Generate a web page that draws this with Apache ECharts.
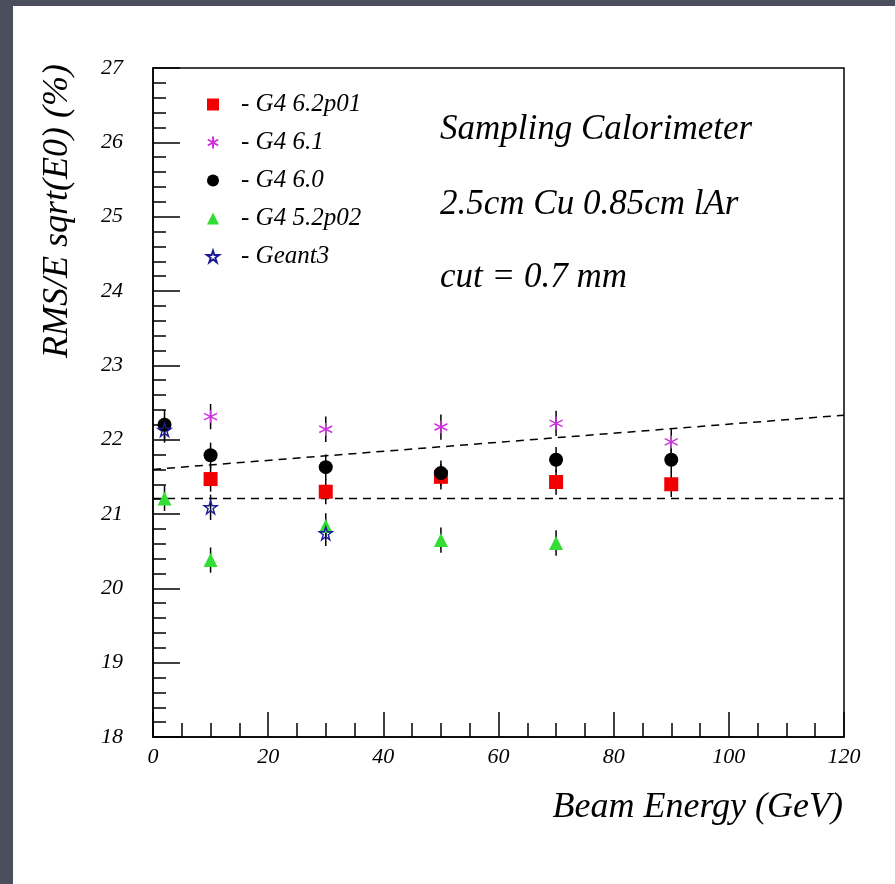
<!DOCTYPE html>
<html>
<head>
<meta charset="utf-8">
<script src="https://cdn.jsdelivr.net/npm/echarts@6/dist/echarts.min.js"></script>
<style>
  html, body { margin: 0; padding: 0; background: #4b4e5d; }
  #chart { position: absolute; left: 13px; top: 6px; width: 882px; height: 878px; background: #fff; }
</style>
</head>
<body>
<div id="chart"></div>
<script>
// beam energies (GeV) per sample
const eG4_62p01 = [10, 30, 50, 70, 90]
const eG4_61 = [10, 30, 50, 70, 90]
const eG4_60 = [2, 10, 30, 50, 70, 90]
const eG4_52p02 = [2, 10, 30, 50, 70]
const eGeant3 = [2, 10, 30]

// RMS/E * sqrt(E0) (%)
const vG4_62p01 = [21.47, 21.30, 21.50, 21.43, 21.40]
const vG4_61 = [22.31, 22.14, 22.17, 22.22, 21.97]
const vG4_60 = [22.20, 21.79, 21.63, 21.55, 21.73, 21.73]
const vG4_52p02 = [21.21, 20.38, 20.84, 20.65, 20.61]
const vGeant3 = [22.13, 21.09, 20.74]

// error bars
const errG4_62p01 = [0.17, 0.17, 0.17, 0.17, 0.17]
const errG4_61 = [0.17, 0.17, 0.17, 0.17, 0.17]
const errG4_60 = [0.2, 0.17, 0.17, 0.17, 0.17, 0.17]
const errG4_52p02 = [0.17, 0.17, 0.17, 0.17, 0.17]
const errGeant3 = [0.17, 0.17, 0.17]

// dashed reference lines (end points)
const flatLine = [[0, 21.21], [120, 21.21]]
const slopeLine = [[0, 21.60], [120, 22.33]]

const xTicks = { min: 0, max: 120, interval: 20 }
const yTicks = { min: 18, max: 27, interval: 1 }

const FONT = 'Liberation Serif'
const ASTERISK = 'path://M5,0L5,10M0.67,2.5L9.33,7.5M0.67,7.5L9.33,2.5'
const STAR = 'path://M50,2L61,36L97,36L68,57L79,92L50,70L21,92L32,57L3,36L39,36Z'

const pts = (xs, ys) => xs.map((x, i) => [x, ys[i]])
const errPts = (xs, ys, es) => xs.map((x, i) => [x, ys[i], es[i]])

const samples = [
  { name: 'G4 6.2p01', x: eG4_62p01, y: vG4_62p01, e: errG4_62p01, symbol: 'rect', size: 14,
    itemStyle: { color: '#f00000', opacity: 1 } },
  { name: 'G4 6.1', x: eG4_61, y: vG4_61, e: errG4_61, symbol: ASTERISK, size: 13,
    itemStyle: { color: 'transparent', borderColor: '#cc33dd', borderWidth: 1.5, opacity: 1 } },
  { name: 'G4 6.0', x: eG4_60, y: vG4_60, e: errG4_60, symbol: 'circle', size: 14,
    itemStyle: { color: '#000', opacity: 1 } },
  { name: 'G4 5.2p02', x: eG4_52p02, y: vG4_52p02, e: errG4_52p02, symbol: 'triangle', size: 14,
    itemStyle: { color: '#33dd33', opacity: 1 } },
  { name: 'Geant3', x: eGeant3, y: vGeant3, e: errGeant3, symbol: STAR, size: 13,
    itemStyle: { color: 'transparent', borderColor: '#1a1a99', borderWidth: 1.4, opacity: 1 } }
]

const series = []

samples.forEach(s => {
  series.push({
    type: 'custom',
    name: s.name + ' err',
    data: errPts(s.x, s.y, s.e),
    encode: { x: 0, y: 1 },
    z: 2,
    silent: true,
    renderItem: (params, api) => {
      const p1 = api.coord([api.value(0), api.value(1) - api.value(2)])
      const p2 = api.coord([api.value(0), api.value(1) + api.value(2)])
      return {
        type: 'line',
        shape: { x1: p1[0], y1: p1[1], x2: p2[0], y2: p2[1] },
        style: { stroke: '#000', lineWidth: 1.5 }
      }
    }
  })
})

samples.forEach(s => {
  series.push({
    type: 'scatter',
    name: s.name,
    data: pts(s.x, s.y),
    symbol: s.symbol,
    symbolSize: s.size,
    itemStyle: s.itemStyle,
    z: 3
  })
})

;[flatLine, slopeLine].forEach((l, i) => {
  series.push({
    type: 'line',
    name: 'fit' + i,
    data: l,
    symbol: 'none',
    silent: true,
    z: 1,
    lineStyle: { color: '#000', width: 1.5, type: [8, 6] }
  })
})

const myChart = echarts.init(document.getElementById('chart'))
const option = {
  backgroundColor: '#fff',
  animation: false,
  grid: {
    left: 140, top: 62, right: 51, bottom: 147,
    show: true, borderColor: '#000', borderWidth: 1.5, backgroundColor: 'transparent'
  },
  xAxis: {
    type: 'value',
    min: xTicks.min, max: xTicks.max, interval: xTicks.interval,
    axisLine: { show: true, onZero: false, lineStyle: { color: '#000', width: 1.5 } },
    axisTick: { show: true, inside: true, length: 25, lineStyle: { color: '#000', width: 1.5 } },
    minorTick: { show: true, splitNumber: 4, length: 14, lineStyle: { color: '#000', width: 1.5 } },
    splitLine: { show: false },
    axisLabel: {
      margin: 9, color: '#000', fontFamily: FONT, fontStyle: 'italic', fontSize: 22,
      showMinLabel: true, showMaxLabel: true
    }
  },
  yAxis: {
    type: 'value',
    min: yTicks.min, max: yTicks.max, interval: yTicks.interval,
    axisLine: { show: true, onZero: false, lineStyle: { color: '#000', width: 1.5 } },
    axisTick: { show: true, inside: true, length: 27, lineStyle: { color: '#000', width: 1.5 } },
    minorTick: { show: true, splitNumber: 5, length: 13, lineStyle: { color: '#000', width: 1.5 } },
    splitLine: { show: false },
    axisLabel: {
      margin: 30, color: '#000', fontFamily: FONT, fontStyle: 'italic', fontSize: 22,
      showMinLabel: true, showMaxLabel: true
    }
  },
  legend: {
    orient: 'vertical',
    left: 188,
    top: 81,
    itemWidth: 12,
    itemHeight: 12,
    itemGap: 13,
    selectedMode: false,
    formatter: '- {name}',
    textStyle: {
      fontFamily: FONT, fontStyle: 'italic', fontSize: 25, lineHeight: 24,
      color: '#000', padding: [0, 0, 0, 17]
    },
    data: samples.map(s => ({ name: s.name, icon: s.symbol }))
  },
  graphic: [
    {
      type: 'text', x: 427, y: 124,
      style: { text: 'Sampling Calorimeter', font: `italic 35px "${FONT}"`, fill: '#000', verticalAlign: 'middle' }
    },
    {
      type: 'text', x: 427, y: 199,
      style: { text: '2.5cm Cu 0.85cm lAr', font: `italic 35px "${FONT}"`, fill: '#000', verticalAlign: 'middle' }
    },
    {
      type: 'text', x: 427, y: 272,
      style: { text: 'cut = 0.7 mm', font: `italic 35px "${FONT}"`, fill: '#000', verticalAlign: 'middle' }
    },
    {
      type: 'text', x: 830, y: 802,
      style: { text: 'Beam Energy (GeV)', font: `italic 36px "${FONT}"`, fill: '#000', align: 'right', verticalAlign: 'middle' }
    },
    {
      type: 'text', x: 45, y: 205, rotation: Math.PI / 2,
      style: { text: 'RMS/E sqrt(E0) (%)', font: `italic 36px "${FONT}"`, fill: '#000', align: 'center', verticalAlign: 'middle' }
    }
  ],
  series: series
}
myChart.setOption(option)
</script>
</body>
</html>
